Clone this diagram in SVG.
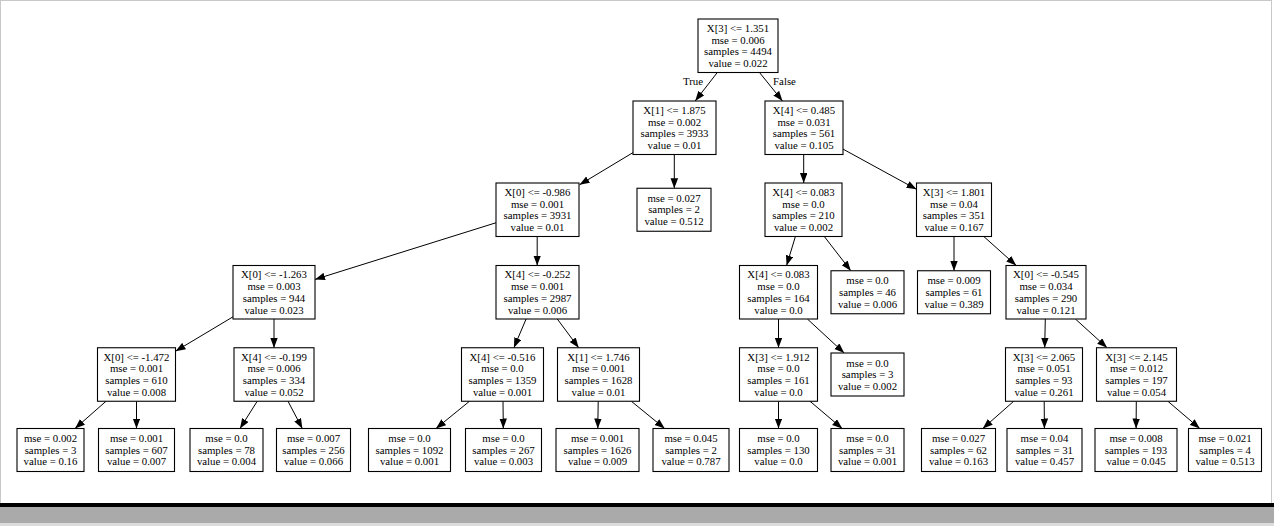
<svg xmlns="http://www.w3.org/2000/svg" width="1274" height="526" viewBox="0 0 1274 526">
<style>
.n rect{fill:#fff;stroke:#000;stroke-width:1.1}
.n text{font-family:"Liberation Serif","Times New Roman",serif;font-size:10.8px;fill:#000;text-anchor:middle}
.e line{stroke:#000;stroke-width:1;marker-end:url(#ah)}
.lbl{font-family:"Liberation Serif","Times New Roman",serif;font-size:10.8px;fill:#000;text-anchor:middle}
</style>
<defs>
<marker id="ah" markerUnits="userSpaceOnUse" markerWidth="10" markerHeight="8" refX="10" refY="3.75" orient="auto">
<path d="M0,0 L10,3.75 L0,7.5 z" fill="#000"/>
</marker>
</defs>
<rect x="0" y="0" width="1274" height="526" fill="#fff"/>
<rect x="0.5" y="0.5" width="1271" height="503" fill="none" stroke="#c8c8c8" stroke-width="1"/>
<rect x="0" y="503" width="1274" height="4" fill="#000"/>
<rect x="0" y="507" width="1274" height="16" fill="#aaaaaa"/>
<rect x="0" y="523" width="1274" height="3" fill="#dcdcdc"/>

<g id="connectors" class="e">
<line x1="717.3" y1="72.5" x2="695.2" y2="101"/>
<line x1="759.5" y1="72.5" x2="782.5" y2="101"/>
<line x1="633" y1="152.6" x2="579.5" y2="184.8"/>
<line x1="674.3" y1="154.5" x2="674.3" y2="188.25"/>
<line x1="803.7" y1="154.5" x2="803.7" y2="183"/>
<line x1="843" y1="149.1" x2="916.5" y2="189.3"/>
<line x1="496" y1="222.75" x2="315" y2="279.4"/>
<line x1="537.2" y1="236.5" x2="537.2" y2="265.5"/>
<line x1="795.4" y1="236.5" x2="786.6" y2="265.5"/>
<line x1="824.3" y1="236.5" x2="850.8" y2="270.75"/>
<line x1="954" y1="236.5" x2="954" y2="270.75"/>
<line x1="983.8" y1="236.5" x2="1016.2" y2="265.5"/>
<line x1="233" y1="316.8" x2="175.5" y2="351.2"/>
<line x1="274" y1="319" x2="274" y2="347.75"/>
<line x1="526.1" y1="319" x2="513.9" y2="347.75"/>
<line x1="557.3" y1="319" x2="578.7" y2="347.75"/>
<line x1="778.5" y1="319" x2="778.5" y2="347.75"/>
<line x1="807.4" y1="319" x2="844.2" y2="353"/>
<line x1="1045.3" y1="319" x2="1044.7" y2="347.75"/>
<line x1="1075.4" y1="319" x2="1107.1" y2="347.75"/>
<line x1="106" y1="401.25" x2="75" y2="428.5"/>
<line x1="136.5" y1="401.25" x2="136.5" y2="428.5"/>
<line x1="257.2" y1="401.25" x2="240" y2="428.5"/>
<line x1="288" y1="401.25" x2="302.3" y2="428.5"/>
<line x1="469.5" y1="401.25" x2="436" y2="428.5"/>
<line x1="503" y1="401.25" x2="503.3" y2="428.5"/>
<line x1="598.2" y1="401.25" x2="597.8" y2="428.5"/>
<line x1="631.3" y1="401.25" x2="664.7" y2="428.5"/>
<line x1="778.5" y1="401.25" x2="778.5" y2="428.5"/>
<line x1="810" y1="401.25" x2="842.2" y2="428.5"/>
<line x1="1013.7" y1="401.25" x2="982.8" y2="428.5"/>
<line x1="1044.2" y1="401.25" x2="1044.4" y2="428.5"/>
<line x1="1136.3" y1="401.25" x2="1136.1" y2="428.5"/>
<line x1="1167.9" y1="401.25" x2="1199.8" y2="428.5"/>
<text class="lbl" x="693" y="85">True</text>
<text class="lbl" x="784.5" y="85">False</text>
</g>

<g id="root" class="n"><rect x="698" y="19" width="80" height="53.5"/>
<text x="738" y="31.9">X[3] &lt;= 1.351</text><text x="738" y="43.6">mse = 0.006</text><text x="738" y="55.3">samples = 4494</text><text x="738" y="67">value = 0.022</text></g>

<g id="n1" class="n"><rect x="633" y="101" width="83" height="53.5"/>
<text x="674.5" y="113.9">X[1] &lt;= 1.875</text><text x="674.5" y="125.6">mse = 0.002</text><text x="674.5" y="137.3">samples = 3933</text><text x="674.5" y="149">value = 0.01</text></g>

<g id="n2" class="n"><rect x="765" y="101" width="78" height="53.5"/>
<text x="804" y="113.9">X[4] &lt;= 0.485</text><text x="804" y="125.6">mse = 0.031</text><text x="804" y="137.3">samples = 561</text><text x="804" y="149">value = 0.105</text></g>

<g id="n3" class="n"><rect x="496" y="183" width="83" height="53.5"/>
<text x="537.5" y="195.9">X[0] &lt;= -0.986</text><text x="537.5" y="207.6">mse = 0.001</text><text x="537.5" y="219.3">samples = 3931</text><text x="537.5" y="231">value = 0.01</text></g>

<g id="leaf027" class="n"><rect x="637" y="188.25" width="74" height="43"/>
<text x="674" y="201.75">mse = 0.027</text><text x="674" y="213.45">samples = 2</text><text x="674" y="225.15">value = 0.512</text></g>

<g id="n4" class="n"><rect x="765" y="183" width="77" height="53.5"/>
<text x="803.5" y="195.9">X[4] &lt;= 0.083</text><text x="803.5" y="207.6">mse = 0.0</text><text x="803.5" y="219.3">samples = 210</text><text x="803.5" y="231">value = 0.002</text></g>

<g id="n5" class="n"><rect x="916.5" y="183" width="75" height="53.5"/>
<text x="954" y="195.9">X[3] &lt;= 1.801</text><text x="954" y="207.6">mse = 0.04</text><text x="954" y="219.3">samples = 351</text><text x="954" y="231">value = 0.167</text></g>

<g id="n6" class="n"><rect x="233" y="265.5" width="82" height="53.5"/>
<text x="274" y="278.4">X[0] &lt;= -1.263</text><text x="274" y="290.1">mse = 0.003</text><text x="274" y="301.8">samples = 944</text><text x="274" y="313.5">value = 0.023</text></g>

<g id="n7" class="n"><rect x="496" y="265.5" width="83" height="53.5"/>
<text x="537.5" y="278.4">X[4] &lt;= -0.252</text><text x="537.5" y="290.1">mse = 0.001</text><text x="537.5" y="301.8">samples = 2987</text><text x="537.5" y="313.5">value = 0.006</text></g>

<g id="n8" class="n"><rect x="739.5" y="265.5" width="78" height="53.5"/>
<text x="778.5" y="278.4">X[4] &lt;= 0.083</text><text x="778.5" y="290.1">mse = 0.0</text><text x="778.5" y="301.8">samples = 164</text><text x="778.5" y="313.5">value = 0.0</text></g>

<g id="leaf46" class="n"><rect x="831" y="270.75" width="73" height="43"/>
<text x="867.5" y="284.25">mse = 0.0</text><text x="867.5" y="295.95">samples = 46</text><text x="867.5" y="307.65">value = 0.006</text></g>

<g id="leaf61" class="n"><rect x="917.5" y="270.75" width="73" height="43"/>
<text x="954" y="284.25">mse = 0.009</text><text x="954" y="295.95">samples = 61</text><text x="954" y="307.65">value = 0.389</text></g>

<g id="n9" class="n"><rect x="1006" y="265.5" width="80" height="53.5"/>
<text x="1046" y="278.4">X[0] &lt;= -0.545</text><text x="1046" y="290.1">mse = 0.034</text><text x="1046" y="301.8">samples = 290</text><text x="1046" y="313.5">value = 0.121</text></g>

<g id="n10" class="n"><rect x="97.5" y="347.75" width="78" height="53.5"/>
<text x="136.5" y="360.65">X[0] &lt;= -1.472</text><text x="136.5" y="372.35">mse = 0.001</text><text x="136.5" y="384.05">samples = 610</text><text x="136.5" y="395.75">value = 0.008</text></g>

<g id="n11" class="n"><rect x="234" y="347.75" width="80" height="53.5"/>
<text x="274" y="360.65">X[4] &lt;= -0.199</text><text x="274" y="372.35">mse = 0.006</text><text x="274" y="384.05">samples = 334</text><text x="274" y="395.75">value = 0.052</text></g>

<g id="n12" class="n"><rect x="461.5" y="347.75" width="82" height="53.5"/>
<text x="502.5" y="360.65">X[4] &lt;= -0.516</text><text x="502.5" y="372.35">mse = 0.0</text><text x="502.5" y="384.05">samples = 1359</text><text x="502.5" y="395.75">value = 0.001</text></g>

<g id="n13" class="n"><rect x="557.5" y="347.75" width="82" height="53.5"/>
<text x="598.5" y="360.65">X[1] &lt;= 1.746</text><text x="598.5" y="372.35">mse = 0.001</text><text x="598.5" y="384.05">samples = 1628</text><text x="598.5" y="395.75">value = 0.01</text></g>

<g id="n14" class="n"><rect x="739.5" y="347.75" width="78" height="53.5"/>
<text x="778.5" y="360.65">X[3] &lt;= 1.912</text><text x="778.5" y="372.35">mse = 0.0</text><text x="778.5" y="384.05">samples = 161</text><text x="778.5" y="395.75">value = 0.0</text></g>

<g id="leafs3" class="n"><rect x="831" y="353" width="73" height="43"/>
<text x="867.5" y="366.5">mse = 0.0</text><text x="867.5" y="378.2">samples = 3</text><text x="867.5" y="389.9">value = 0.002</text></g>

<g id="n15" class="n"><rect x="1005.5" y="347.75" width="77" height="53.5"/>
<text x="1044" y="360.65">X[3] &lt;= 2.065</text><text x="1044" y="372.35">mse = 0.051</text><text x="1044" y="384.05">samples = 93</text><text x="1044" y="395.75">value = 0.261</text></g>

<g id="n16" class="n"><rect x="1096.5" y="347.75" width="80" height="53.5"/>
<text x="1136.5" y="360.65">X[3] &lt;= 2.145</text><text x="1136.5" y="372.35">mse = 0.012</text><text x="1136.5" y="384.05">samples = 197</text><text x="1136.5" y="395.75">value = 0.054</text></g>

<g id="leafA" class="n"><rect x="17" y="428.5" width="67" height="43"/>
<text x="50.5" y="442">mse = 0.002</text><text x="50.5" y="453.7">samples = 3</text><text x="50.5" y="465.4">value = 0.16</text></g>
<g id="leafB" class="n"><rect x="98.5" y="428.5" width="76" height="43"/>
<text x="136.5" y="442">mse = 0.001</text><text x="136.5" y="453.7">samples = 607</text><text x="136.5" y="465.4">value = 0.007</text></g>
<g id="leafC" class="n"><rect x="190" y="428.5" width="73" height="43"/>
<text x="226.5" y="442">mse = 0.0</text><text x="226.5" y="453.7">samples = 78</text><text x="226.5" y="465.4">value = 0.004</text></g>
<g id="leafD" class="n"><rect x="276.5" y="428.5" width="74" height="43"/>
<text x="313.5" y="442">mse = 0.007</text><text x="313.5" y="453.7">samples = 256</text><text x="313.5" y="465.4">value = 0.066</text></g>
<g id="leafE" class="n"><rect x="368.5" y="428.5" width="82" height="43"/>
<text x="409.5" y="442">mse = 0.0</text><text x="409.5" y="453.7">samples = 1092</text><text x="409.5" y="465.4">value = 0.001</text></g>
<g id="leafF" class="n"><rect x="465.5" y="428.5" width="76" height="43"/>
<text x="503.5" y="442">mse = 0.0</text><text x="503.5" y="453.7">samples = 267</text><text x="503.5" y="465.4">value = 0.003</text></g>
<g id="leafG" class="n"><rect x="556" y="428.5" width="83" height="43"/>
<text x="597.5" y="442">mse = 0.001</text><text x="597.5" y="453.7">samples = 1626</text><text x="597.5" y="465.4">value = 0.009</text></g>
<g id="leafH" class="n"><rect x="653" y="428.5" width="76" height="43"/>
<text x="691" y="442">mse = 0.045</text><text x="691" y="453.7">samples = 2</text><text x="691" y="465.4">value = 0.787</text></g>
<g id="leafI" class="n"><rect x="739.5" y="428.5" width="78" height="43"/>
<text x="778.5" y="442">mse = 0.0</text><text x="778.5" y="453.7">samples = 130</text><text x="778.5" y="465.4">value = 0.0</text></g>
<g id="leafJ" class="n"><rect x="831" y="428.5" width="73" height="43"/>
<text x="867.5" y="442">mse = 0.0</text><text x="867.5" y="453.7">samples = 31</text><text x="867.5" y="465.4">value = 0.001</text></g>
<g id="leafK" class="n"><rect x="921.5" y="428.5" width="74" height="43"/>
<text x="958.5" y="442">mse = 0.027</text><text x="958.5" y="453.7">samples = 62</text><text x="958.5" y="465.4">value = 0.163</text></g>
<g id="leafL" class="n"><rect x="1007" y="428.5" width="75" height="43"/>
<text x="1044.5" y="442">mse = 0.04</text><text x="1044.5" y="453.7">samples = 31</text><text x="1044.5" y="465.4">value = 0.457</text></g>
<g id="leafM" class="n"><rect x="1095" y="428.5" width="82" height="43"/>
<text x="1136" y="442">mse = 0.008</text><text x="1136" y="453.7">samples = 193</text><text x="1136" y="465.4">value = 0.045</text></g>
<g id="leafN" class="n"><rect x="1188.5" y="428.5" width="73" height="43"/>
<text x="1225" y="442">mse = 0.021</text><text x="1225" y="453.7">samples = 4</text><text x="1225" y="465.4">value = 0.513</text></g>
</svg>
